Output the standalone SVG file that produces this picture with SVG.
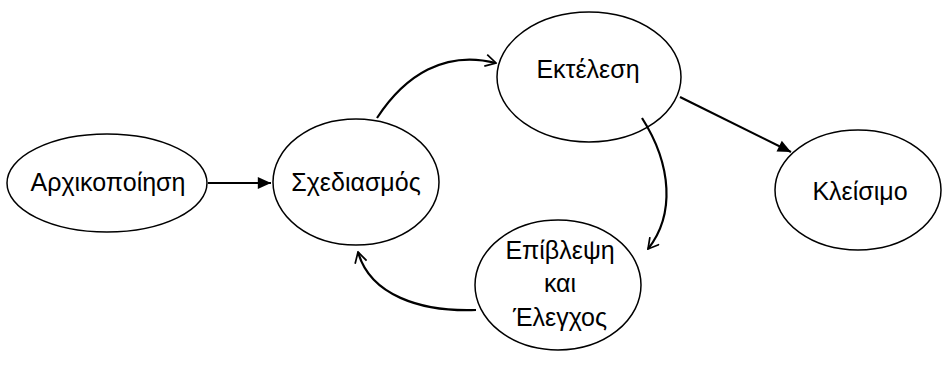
<svg xmlns="http://www.w3.org/2000/svg" width="950" height="376" viewBox="0 0 950 376">
  <style>
    .node ellipse { fill: #ffffff; stroke: #000000; stroke-width: 1.5; }
    .node text { font-family: "Liberation Sans", Arial, sans-serif; font-size: 25px; fill: #000000; text-anchor: middle; }
    .edge { fill: none; stroke: #000000; stroke-width: 2.2; }
  </style>
  <defs>
    <marker id="solid" viewBox="0 0 10 10" refX="10" refY="5" markerWidth="6.5" markerHeight="6" orient="auto" markerUnits="strokeWidth">
      <path d="M0,0.5 L10,5 L0,9.5 Z" fill="#000"/>
    </marker>
    <marker id="open" viewBox="0 0 10 10" refX="9" refY="5" markerWidth="6" markerHeight="6" orient="auto" markerUnits="strokeWidth">
      <path d="M1,0.5 L9,5 L1,9.5" fill="none" stroke="#000" stroke-width="1.3"/>
    </marker>
  </defs>

  <g id="init" class="node">
    <ellipse cx="107" cy="183" rx="100" ry="49"/>
    <text x="108" y="191">Αρχικοποίηση</text>
  </g>
  <g id="planning" class="node">
    <ellipse cx="356" cy="182" rx="83" ry="63"/>
    <text x="356" y="191">Σχεδιασμός</text>
  </g>
  <g id="execution" class="node">
    <ellipse cx="589" cy="77" rx="92" ry="65"/>
    <text x="588" y="78">Εκτέλεση</text>
  </g>
  <g id="closing" class="node">
    <ellipse cx="858" cy="190" rx="83" ry="60"/>
    <text x="860" y="200">Κλείσιμο</text>
  </g>
  <g id="monitoring" class="node">
    <ellipse cx="558" cy="285" rx="83" ry="65"/>
    <text x="560" y="259">Επίβλεψη</text>
    <text x="560" y="292">και</text>
    <text x="560" y="326">Έλεγχος</text>
  </g>

  <g id="connectors">
    <path class="edge" d="M208,183 L271,183" marker-end="url(#solid)"/>
    <path class="edge" d="M377,118 C405,75 445,50 496,63" marker-end="url(#open)"/>
    <path class="edge" d="M680,97 L791,152" marker-end="url(#solid)"/>
    <path class="edge" d="M642,118 C672,165 675,215 648,249" marker-end="url(#open)"/>
    <path class="edge" d="M476,310 C420,312 370,295 358,252" marker-end="url(#open)"/>
  </g>
</svg>
